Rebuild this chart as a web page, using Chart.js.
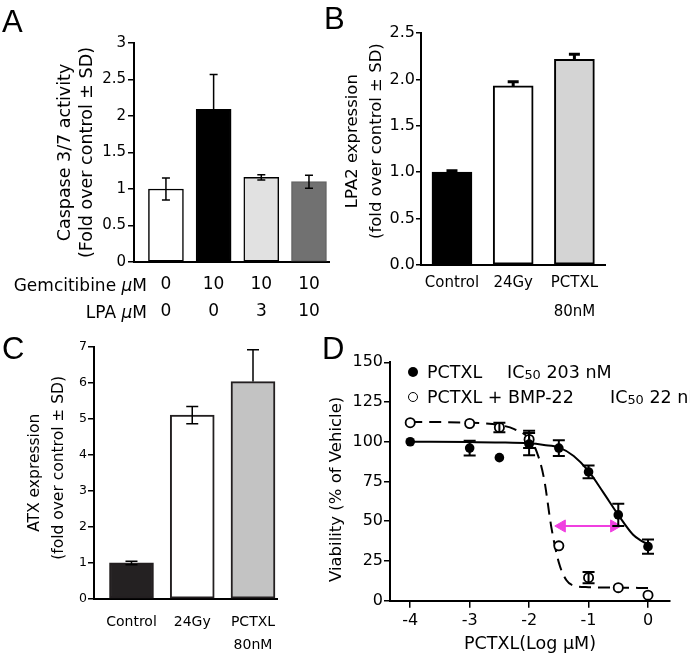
<!DOCTYPE html>
<html>
<head>
<meta charset="utf-8">
<script src="https://cdn.jsdelivr.net/npm/chart.js@4.4.1/dist/chart.umd.min.js"></script>
<style>
    html, body { margin: 0; padding: 0; background: #fff; }
    #page { position: relative; width: 690px; height: 658px; overflow: hidden;
            font-family: "DejaVu Sans", Arial, sans-serif; color: #000; }
    #page canvas { position: absolute; left: 0; top: 0; }
    .letter { position: absolute; font-family: "Liberation Sans", Arial, sans-serif; font-size: 31px; line-height: 31px; }
    .txt { position: absolute; font-size: 17px; line-height: 26px; white-space: nowrap; }
    .lg { font-size: 17.5px; }
    .sub { font-size: 0.74em; position: relative; top: 1px; }
    .dot { position: absolute; width: 10px; height: 10px; border-radius: 50%; box-sizing: border-box; }
</style>
</head>
<body>
<div id="page">
    <canvas id="chartA" width="690" height="658"></canvas>
    <canvas id="chartB" width="690" height="658"></canvas>
    <canvas id="chartC" width="690" height="658"></canvas>
    <canvas id="chartD" width="690" height="658"></canvas>

    <div class="letter" style="left:2px; top:6px;">A</div>
    <div class="letter" style="left:324px; top:3px;">B</div>
    <div class="letter" style="left:2px; top:333px;">C</div>
    <div class="letter" style="left:322px; top:333px;">D</div>

    <!-- row headers under panel A -->
    <div class="txt" style="left:0; width:147px; text-align:right; top:272px;">Gemcitibine <i>μ</i>M</div>
    <div class="txt" style="left:0; width:147px; text-align:right; top:299px;">LPA <i>μ</i>M</div>

    <!-- legend of panel D -->
    <div class="dot" style="left:408px; top:367px; background:#000;"></div>
    <div class="txt lg" style="left:427px; top:359px;">PCTXL</div>
    <div class="txt lg" style="left:507px; top:359px;">IC<span class="sub">50</span> 203 nM</div>
    <div class="dot" style="left:408px; top:392px; background:#fff; border:1.8px solid #000;"></div>
    <div class="txt lg" style="left:427px; top:384px;">PCTXL + BMP-22</div>
    <div class="txt lg" style="left:610px; top:384px;">IC<span class="sub">50</span> 22 nM</div>
</div>

<script>
// Panel A - caspase 3/7
const aGemcitibine = ['0', '10', '10', '10'];
const aLpa = ['0', '0', '3', '10'];
const aValues = [1.0, 2.09, 1.16, 1.10];
const aErrors = [0.15, 0.48, 0.035, 0.09];

// Panel B - LPA2 expression
const bLabels = ['Control', '24Gy', ['PCTXL', '80nM']];
const bValues = [1.0, 1.93, 2.215];
const bErrors = [0.015, 0.045, 0.055];

// Panel C - ATX expression
const cLabels = ['Control', '24Gy', ['PCTXL', '80nM']];
const cValues = [1.0, 5.1, 6.03];
const cErrUp = [0.05, 0.24, 0.88];
const cErrDown = [0.05, 0.24, 0];

// Panel D - viability
const dTicksX = [-4, -3, -2, -1, 0];
const dLogDose = [-4, -3, -2.5, -2, -1.5, -1, -0.5, 0];
const dPctxl = [100, 96, 90, 98.5, 96, 81, 54, 34];
const dPctxlErr = [0, 4.7, 0, 7, 5, 4, 7, 4.5];
const dBmp = [112, 111.5, 109, 101.5, 34.5, 14.5, 8.2, 3.5];
const dBmpErr = [0, 0, 3, 5.5, 0, 3.5, 0, 0];
// fitted curves
const dFitPctxlX = [-4, -3, -2.5, -2, -1.75, -1.5, -1.25, -1, -0.75, -0.5, -0.25, -0.125, 0];
const dFitPctxlY = [100, 99.8, 99.6, 99, 98, 96.5, 91, 81.5, 68, 54, 41.5, 38, 35.5];
const dFitBmpX = [-4, -3, -2.5, -2.25, -2, -1.875, -1.75, -1.625, -1.5, -1.375, -1.25, -1, -0.5, 0];
const dFitBmpY = [112.5, 112, 110.5, 108, 102, 94, 77, 46, 24, 13, 9.5, 8.5, 8.2, 8];
const dArrowX = [-1.45, -0.57];
const dArrowY = [47, 47];

Chart.defaults.font.family = '"DejaVu Sans", Arial, sans-serif';
Chart.defaults.color = '#000';
Chart.defaults.animation = false;
Chart.defaults.responsive = false;
Chart.defaults.plugins.legend.display = false;
Chart.defaults.plugins.tooltip.enabled = false;

const W = 690, H = 658;
const NB = '\u00a0';

// padding so that the plot area lands at left/top/right/bottom
function areaPadding(left, top, right, bottom, yWidth, xHeight) {
    return { left: left - yWidth, top: top, right: W - right, bottom: H - bottom - xHeight };
}

function xy(xs, ys) {
    return xs.map((x, i) => ({ x: x, y: ys[i] }));
}

// error bars drawn with the chart's y scale
const errorBars = {
    id: 'errorBars',
    afterDatasetsDraw(chart) {
        const ctx = chart.ctx;
        const yScale = chart.scales.y;
        chart.data.datasets.forEach((ds, i) => {
            if (!ds.errUp) return;
            const meta = chart.getDatasetMeta(i);
            const half = ds.errCap / 2;
            ctx.save();
            ctx.strokeStyle = '#000';
            ctx.lineWidth = ds.errWidth;
            meta.data.forEach((el, j) => {
                const v = ds.data[j].y;
                const up = ds.errUp[j] || 0;
                const down = ds.errDown ? (ds.errDown[j] || 0) : 0;
                if (!up && !down) return;
                const top = yScale.getPixelForValue(v + up);
                const bot = yScale.getPixelForValue(v - down);
                ctx.beginPath();
                ctx.moveTo(el.x, top);
                ctx.lineTo(el.x, bot);
                if (up) { ctx.moveTo(el.x - half, top); ctx.lineTo(el.x + half, top); }
                if (down) { ctx.moveTo(el.x - half, bot); ctx.lineTo(el.x + half, bot); }
                ctx.stroke();
            });
            ctx.restore();
        });
    }
};

const axisBorder = { color: '#000', width: 2 };

// ---------- A ----------
new Chart(document.getElementById('chartA'), {
    type: 'bar',
    data: {
        datasets: [{
            data: aValues.map((v, i) => ({ x: i + 1, y: v })),
            backgroundColor: ['#ffffff', '#000000', '#e1e1e1', '#717171'],
            borderColor: ['#000', '#000', '#000', '#666'],
            borderWidth: 1.5,
            borderSkipped: false,
            barThickness: 35,
            errUp: aErrors, errDown: aErrors, errWidth: 1.5, errCap: 8
        }]
    },
    options: {
        layout: { padding: areaPadding(134, 43, 329, 262, 80, 64) },
        scales: {
            x: {
                type: 'linear', min: 0.33, max: 4.42, offset: false,
                grid: { display: false, drawTicks: false },
                border: axisBorder,
                afterBuildTicks: s => { s.ticks = aGemcitibine.map((g, i) => ({ value: i + 1 })); },
                ticks: {
                    font: { size: 17, lineHeight: 1.59 }, padding: 9.5, maxRotation: 0, autoSkip: false,
                    callback: v => [aGemcitibine[v - 1], aLpa[v - 1]]
                },
                afterFit: s => { s.height = 64; }
            },
            y: {
                min: 0, max: 3,
                ticks: { stepSize: 0.5, font: { size: 15 }, padding: 2, callback: v => String(v) },
                grid: { drawOnChartArea: false, tickLength: 6, color: '#000', lineWidth: 1.5 },
                border: axisBorder,
                title: {
                    display: true, padding: 0,
                    text: ['Caspase 3/7 activity', '(Fold over control ± SD)'],
                    font: { size: 17.5, lineHeight: 1.257 }
                },
                afterFit: s => { s.width = 80; }
            }
        }
    },
    plugins: [errorBars]
});

// ---------- B ----------
new Chart(document.getElementById('chartB'), {
    type: 'bar',
    data: {
        datasets: [{
            data: bValues.map((v, i) => ({ x: i + 1, y: v })),
            backgroundColor: ['#000000', '#ffffff', '#d4d4d4'],
            borderColor: '#000',
            borderWidth: 2,
            borderSkipped: false,
            barThickness: 40,
            errUp: bErrors, errWidth: 3, errCap: 11
        }]
    },
    options: {
        layout: { padding: areaPadding(421, 33, 605, 265, 80, 62) },
        scales: {
            x: {
                type: 'linear', min: 0.494, max: 3.5, offset: false,
                grid: { display: false, drawTicks: false },
                border: axisBorder,
                afterBuildTicks: s => { s.ticks = bLabels.map((l, i) => ({ value: i + 1 })); },
                ticks: {
                    font: { size: 15, lineHeight: 1.9 }, padding: 4, maxRotation: 0, autoSkip: false,
                    callback: v => bLabels[v - 1]
                },
                afterFit: s => { s.height = 62; }
            },
            y: {
                min: 0, max: 2.5,
                ticks: { stepSize: 0.5, font: { size: 16 }, padding: 1, callback: v => v.toFixed(1) },
                grid: { drawOnChartArea: false, tickLength: 5, color: '#000', lineWidth: 1.5 },
                border: axisBorder,
                title: {
                    display: true, padding: 0,
                    text: [NB + NB + NB + 'LPA2 expression', NB + NB + NB + '(fold over control ± SD)'],
                    font: { size: 16.5, lineHeight: 1.455 }
                },
                afterFit: s => { s.width = 80; }
            }
        }
    },
    plugins: [errorBars]
});

// ---------- C ----------
new Chart(document.getElementById('chartC'), {
    type: 'bar',
    data: {
        datasets: [{
            data: cValues.map((v, i) => ({ x: i + 1, y: v })),
            backgroundColor: ['#242122', '#ffffff', '#c3c3c3'],
            borderColor: '#231f20',
            borderWidth: 2,
            borderSkipped: false,
            barThickness: 44,
            errUp: cErrUp, errDown: cErrDown, errWidth: 1.5, errCap: 12
        }]
    },
    options: {
        layout: { padding: areaPadding(94, 346.6, 277, 599, 71, 58) },
        scales: {
            x: {
                type: 'linear', min: 0.383, max: 3.395, offset: false,
                grid: { display: false, drawTicks: false },
                border: axisBorder,
                afterBuildTicks: s => { s.ticks = cLabels.map((l, i) => ({ value: i + 1 })); },
                ticks: {
                    font: { size: 14, lineHeight: 1.67 }, padding: 11.5, maxRotation: 0, autoSkip: false,
                    callback: v => cLabels[v - 1]
                },
                afterFit: s => { s.height = 58; }
            },
            y: {
                min: 0, max: 7,
                ticks: { stepSize: 1, font: { size: 12.5 }, padding: 1 },
                grid: { drawOnChartArea: false, tickLength: 6, color: '#000', lineWidth: 1.5 },
                border: axisBorder,
                title: {
                    display: true, padding: 0,
                    text: ['ATX expression', NB + NB + '(fold over control ± SD)'],
                    font: { size: 15.5, lineHeight: 1.55 }
                },
                afterFit: s => { s.width = 71; }
            }
        }
    },
    plugins: [errorBars]
});

// ---------- D ----------
const magenta = '#f03fe0';
new Chart(document.getElementById('chartD'), {
    type: 'line',
    data: {
        datasets: [
            {
                data: xy(dLogDose, dPctxl), showLine: false, order: 0,
                pointRadius: 4.8, pointBackgroundColor: '#000', pointBorderColor: '#000', pointBorderWidth: 0,
                errUp: dPctxlErr, errDown: dPctxlErr, errWidth: 2, errCap: 12
            },
            {
                data: xy(dLogDose, dBmp), showLine: false, order: 0,
                pointRadius: 4.6, pointBackgroundColor: '#fff', pointBorderColor: '#000', pointBorderWidth: 1.8,
                errUp: dBmpErr, errDown: dBmpErr, errWidth: 2, errCap: 12
            },
            {
                data: xy(dFitPctxlX, dFitPctxlY), order: 1,
                borderColor: '#000', borderWidth: 2, pointRadius: 0, cubicInterpolationMode: 'monotone'
            },
            {
                data: xy(dFitBmpX, dFitBmpY), order: 1,
                borderColor: '#000', borderWidth: 2, borderDash: [12, 7], pointRadius: 0,
                cubicInterpolationMode: 'monotone'
            },
            {
                data: xy(dArrowX, dArrowY), order: 0,
                borderColor: magenta, borderWidth: 2,
                pointStyle: 'triangle', pointRadius: 7, pointRotation: [-90, 90],
                pointBackgroundColor: magenta, pointBorderColor: magenta, pointBorderWidth: 1
            }
        ]
    },
    options: {
        layout: { padding: areaPadding(390, 362.3, 670, 600.7, 63.4, 54.7) },
        scales: {
            x: {
                type: 'linear', min: -4.34, max: 0.37, offset: false,
                grid: { drawOnChartArea: false, tickLength: 7, color: '#000', lineWidth: 1.5 },
                border: axisBorder,
                afterBuildTicks: s => { s.ticks = dTicksX.map(v => ({ value: v })); },
                ticks: { font: { size: 16 }, padding: 4, maxRotation: 0, autoSkip: false, callback: v => String(v) },
                title: { display: true, padding: 0, text: 'PCTXL(Log µM)', font: { size: 17.5, lineHeight: 1.2 } },
                afterFit: s => { s.height = 54.7; }
            },
            y: {
                min: 0, max: 150,
                ticks: { stepSize: 25, font: { size: 16 }, padding: 1 },
                grid: { drawOnChartArea: false, tickLength: 6, color: '#000', lineWidth: 1.5 },
                border: axisBorder,
                title: {
                    display: true, padding: 0,
                    text: 'Viability (% of Vehicle)' + NB + NB + NB,
                    font: { size: 16.5, lineHeight: 1.2 }
                },
                afterFit: s => { s.width = 63.4; }
            }
        }
    },
    plugins: [errorBars]
});
</script>
</body>
</html>
